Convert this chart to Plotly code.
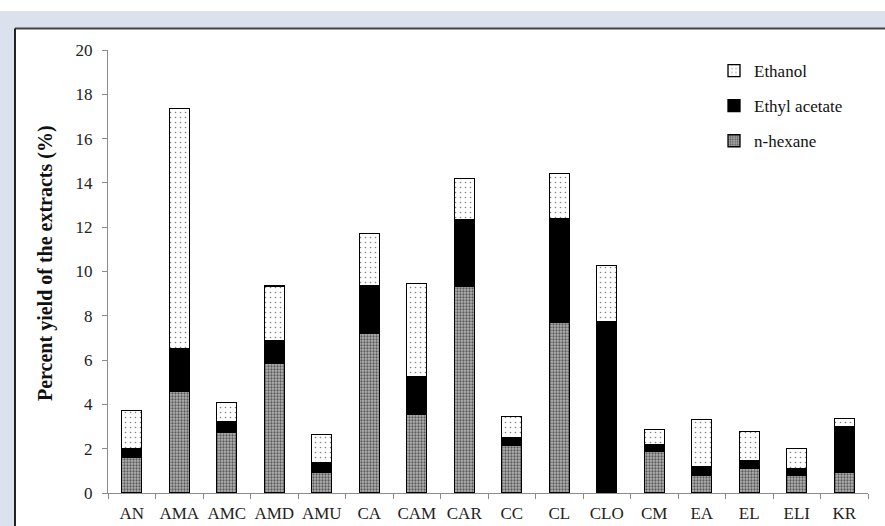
import plotly.graph_objects as go

# Plant extract codes
categories = ["AN", "AMA", "AMC", "AMD", "AMU", "CA", "CAM", "CAR",
              "CC", "CL", "CLO", "CM", "EA", "EL", "ELI", "KR"]

# Percent yield per solvent (stacked bottom to top)
n_hexane = [1.60, 4.57, 2.75, 5.84, 0.92, 7.19, 3.57, 9.31,
            2.14, 7.69, 0.00, 1.87, 0.78, 1.10, 0.78, 0.92]
ethyl_acetate = [0.39, 1.93, 0.49, 1.04, 0.47, 2.17, 1.68, 3.02,
                 0.36, 4.68, 7.73, 0.30, 0.42, 0.34, 0.33, 2.07]
ethanol = [1.73, 10.87, 0.84, 2.47, 1.26, 2.36, 4.20, 1.86,
           0.96, 2.06, 2.55, 0.69, 2.11, 1.34, 0.91, 0.37]

y_ticks = [0, 2, 4, 6, 8, 10, 12, 14, 16, 18, 20]

W, H = 885, 526
ML, MR, MT, MB = 108, 17, 50, 33
PW, PH = W - ML - MR, H - MT - MB

FONT = "Liberation Serif, Times New Roman, serif"
BAND = "#dce1ee"


def px_x(px):
    return (px - ML) / PW


def px_y(py):
    return (H - MB - py) / PH


fig = go.Figure()

outline = dict(color="black", width=1.3)

fig.add_trace(go.Bar(
    x=categories, y=n_hexane, name="n-hexane", legendgroup="hex", legendrank=3,
    marker=dict(color="white", line=outline,
                pattern=dict(shape=".", size=3, solidity=0.45,
                             fgcolor="black", bgcolor="#b4b4b4")),
))
fig.add_trace(go.Bar(
    x=categories, y=ethyl_acetate, name="Ethyl acetate", legendgroup="eth", legendrank=2,
    marker=dict(color="black", line=outline),
))
fig.add_trace(go.Bar(
    x=categories, y=ethanol, name="Ethanol", legendgroup="etoh", legendrank=1,
    marker=dict(color="white", line=outline,
                pattern=dict(shape=".", size=5, solidity=0.08,
                             fgcolor="black", bgcolor="white")),
))

# Outer frame: tinted band along the top and left edge, dark rule inside it
shapes = [
    dict(type="rect", xref="paper", yref="paper",
         x0=px_x(0), x1=px_x(W + 5), y0=px_y(28), y1=px_y(11),
         fillcolor=BAND, line=dict(width=0), layer="below"),
    dict(type="rect", xref="paper", yref="paper",
         x0=px_x(0), x1=px_x(15), y0=px_y(H + 5), y1=px_y(28),
         fillcolor=BAND, line=dict(width=0), layer="below"),
    dict(type="line", xref="paper", yref="paper",
         x0=px_x(15), x1=px_x(W + 5), y0=px_y(28.5), y1=px_y(28.5),
         line=dict(color="#444444", width=2)),
    dict(type="line", xref="paper", yref="paper",
         x0=px_x(15), x1=px_x(15), y0=px_y(28.5), y1=px_y(H + 5),
         line=dict(color="#222222", width=2)),
]

fig.update_layout(
    width=W, height=H,
    margin=dict(l=ML, r=MR, t=MT, b=MB),
    paper_bgcolor="white", plot_bgcolor="white",
    barmode="stack", bargap=0.58,
    font=dict(family=FONT, size=17, color="#222222"),
    shapes=shapes,
    showlegend=True,
    legend=dict(
        traceorder="grouped", tracegroupgap=10,
        x=px_x(714), y=px_y(53), xanchor="left", yanchor="top",
        bgcolor="rgba(0,0,0,0)", font=dict(family=FONT, size=17, color="#111111"),
        itemwidth=30,
    ),
    annotations=[dict(
        text="<b>Percent yield of the extracts (%)</b>",
        xref="paper", yref="paper", x=px_x(45), y=px_y(263),
        textangle=-90, showarrow=False, xanchor="center", yanchor="middle",
        font=dict(family=FONT, size=20, color="#111111"),
    )],
)

fig.update_xaxes(
    showline=True, linecolor="#8c8c8c", linewidth=1,
    ticks="outside", tickson="boundaries", ticklen=5, tickcolor="#8c8c8c",
    showgrid=False, ticklabelstandoff=5, tickangle=0, automargin=False,
    tickfont=dict(family=FONT, size=17, color="#222222"),
)
fig.update_yaxes(
    range=[0, 20], tickvals=y_ticks,
    showline=True, linecolor="#8c8c8c", linewidth=1,
    ticks="outside", ticklen=5, tickcolor="#8c8c8c",
    showgrid=False, zeroline=False, ticklabelstandoff=6, automargin=False,
    tickfont=dict(family=FONT, size=17, color="#222222"),
)

fig.write_html("out.html")
